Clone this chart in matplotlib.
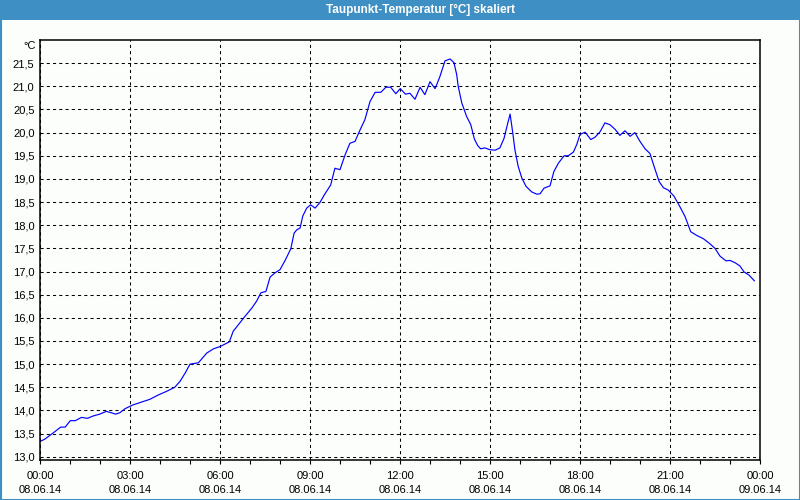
"""Taupunkt-Temperatur over one day (08.06.14), scaled view."""

import matplotlib

matplotlib.use("Agg")
import matplotlib.pyplot as plt
from matplotlib.patches import Rectangle
from matplotlib.ticker import FixedLocator, FuncFormatter, MultipleLocator

# hours since 08.06.14 00:00 and dew point in degC
hours = [
    0.0, 0.16, 0.43, 0.69, 0.84, 1.01, 1.18, 1.38, 1.58, 1.77, 1.99, 2.21,
    2.38, 2.52, 2.66, 2.84, 3.10, 3.38, 3.66, 3.93, 4.21, 4.49, 4.67, 4.85,
    5.0, 5.28, 5.56, 5.78, 6.0, 6.31, 6.44, 6.61, 6.83, 7.06, 7.22, 7.36,
    7.53, 7.67, 7.83, 8.0, 8.17, 8.36, 8.47, 8.56, 8.67, 8.76, 8.89, 9.02,
    9.17, 9.33, 9.50, 9.69, 9.83, 10.0, 10.17, 10.33, 10.5, 10.67, 10.83,
    11.0, 11.17, 11.36, 11.53, 11.69, 11.86, 12.01, 12.18, 12.33, 12.5,
    12.67, 12.83, 13.0, 13.17, 13.33, 13.5, 13.67, 13.8, 13.89, 13.94,
    14.06, 14.22, 14.36, 14.48, 14.59, 14.69, 14.83, 15.0, 15.17, 15.33,
    15.47, 15.59, 15.67, 15.76, 15.83, 15.94, 16.06, 16.2, 16.39, 16.56,
    16.67, 16.8, 17.0, 17.13, 17.28, 17.47, 17.61, 17.78, 17.89, 18.0,
    18.17, 18.36, 18.5, 18.67, 18.83, 19.0, 19.17, 19.33, 19.5, 19.67,
    19.83, 20.0, 20.17, 20.33, 20.5, 20.64, 20.78, 20.94, 21.13, 21.33,
    21.5, 21.61, 21.69, 21.89, 22.11, 22.33, 22.5, 22.67, 22.87, 23.0,
    23.17, 23.33, 23.47, 23.64, 23.81,
]
dewpoint = [
    13.33, 13.38, 13.51, 13.64, 13.64, 13.78, 13.78, 13.85, 13.83, 13.88,
    13.92, 13.98, 13.95, 13.92, 13.95, 14.04, 14.12, 14.18, 14.24, 14.33,
    14.41, 14.50, 14.63, 14.82, 15.0, 15.03, 15.24, 15.33, 15.38, 15.48,
    15.71, 15.85, 16.03, 16.21, 16.36, 16.54, 16.57, 16.88, 16.97, 17.04,
    17.24, 17.49, 17.83, 17.90, 17.94, 18.20, 18.37, 18.44, 18.37, 18.49,
    18.68, 18.87, 19.23, 19.20, 19.52, 19.77, 19.81, 20.06, 20.28, 20.67,
    20.87, 20.87, 20.98, 20.98, 20.84, 20.95, 20.83, 20.85, 20.72, 20.98,
    20.82, 21.10, 20.95, 21.21, 21.55, 21.59, 21.51, 21.25, 21.0, 20.64,
    20.35, 20.17, 19.86, 19.72, 19.65, 19.67, 19.63, 19.62, 19.67, 19.88,
    20.20, 20.40, 19.99, 19.63, 19.27, 19.02, 18.84, 18.72, 18.67, 18.68,
    18.80, 18.85, 19.16, 19.34, 19.50, 19.50, 19.58, 19.74, 19.96, 20.01,
    19.85, 19.90, 20.02, 20.21, 20.17, 20.07, 19.94, 20.04, 19.92, 20.0,
    19.81, 19.65, 19.55, 19.21, 18.94, 18.81, 18.76, 18.63, 18.40, 18.19,
    18.0, 17.86, 17.78, 17.71, 17.60, 17.50, 17.33, 17.23, 17.24, 17.19,
    17.12, 16.99, 16.92, 16.80,
]

tick_hours = [0, 3, 6, 9, 12, 15, 18, 21, 24]
tick_times = ["00:00", "03:00", "06:00", "09:00", "12:00", "15:00", "18:00", "21:00", "00:00"]
tick_dates = ["08.06.14"] * 8 + ["09.06.14"]
y_ticks = [13.0, 13.5, 14.0, 14.5, 15.0, 15.5, 16.0, 16.5, 17.0, 17.5,
           18.0, 18.5, 19.0, 19.5, 20.0, 20.5, 21.0, 21.5]

title = "Taupunkt-Temperatur [°C] skaliert"
BAR = "#3d8fc4"
BG = "#fcfefc"


def main():
    plt.rcParams["font.family"] = ["Liberation Sans", "DejaVu Sans"]
    fig = plt.figure(figsize=(8, 5), dpi=100, facecolor=BG)
    ax = fig.add_axes([0.05, 0.08, 0.9, 0.84], facecolor=BG)

    ax.plot(hours, dewpoint, color="#0000ff", lw=0.85)

    ax.set_xlim(0, 24)
    ax.set_ylim(12.93, 22.0)
    ax.xaxis.set_major_locator(FixedLocator(tick_hours))
    ax.set_xticklabels([f"{t}\n{d}" for t, d in zip(tick_times, tick_dates)],
                       fontsize=8, linespacing=1.45)
    ax.xaxis.set_minor_locator(MultipleLocator(1))
    ax.yaxis.set_major_locator(FixedLocator(y_ticks))
    ax.yaxis.set_major_formatter(FuncFormatter(lambda v, _: f"{v:.1f}".replace(".", ",")))

    ax.tick_params(axis="x", which="both", length=3, width=0.8, pad=5, color="black")
    ax.tick_params(axis="y", length=0, pad=4, labelsize=8)
    ax.grid(True, which="major", color="black", lw=0.75, ls=(0, (3, 3)))
    for s in ax.spines.values():
        s.set_linewidth(1.1)

    fig.text(36 / 800, 1 - 46 / 500, "°C", ha="right", va="center", fontsize=8)

    # window frame with title bar
    fig.patches.append(Rectangle((0, 1 - 20 / 500), 1, 20 / 500, transform=fig.transFigure,
                                 facecolor=BAR, edgecolor="none", zorder=0))
    fig.patches.append(Rectangle((0.5 / 800, 0.5 / 500), 1 - 1 / 800, 1 - 1 / 500,
                                 transform=fig.transFigure, facecolor="none",
                                 edgecolor=BAR, lw=1.5, zorder=0))
    fig.text(420 / 800, 1 - 10 / 500, title, ha="center", va="center",
             color="white", fontsize=8.5, fontweight="bold")

    fig.savefig("out.png", dpi=100, facecolor=BG)


if __name__ == "__main__":
    main()
